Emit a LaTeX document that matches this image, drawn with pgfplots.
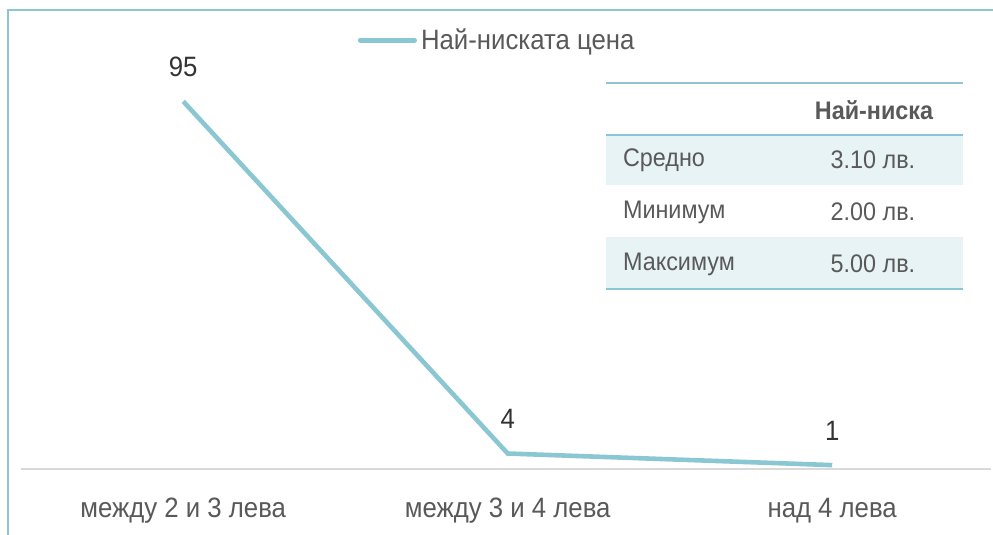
\documentclass[border=0pt]{standalone}
\usepackage{fontspec}
\setmainfont{Liberation Sans}[FakeStretch=0.92]
\usepackage{pgfplots}
\pgfplotsset{compat=1.18}
\definecolor{teal1}{HTML}{8BC7D2}
\definecolor{txt}{HTML}{595959}
\definecolor{axgray}{HTML}{D9D9D9}
\definecolor{shadecol}{HTML}{E7F3F5}
\newcommand\fs{\fontsize{14}{16}\selectfont}
\newcommand\ft{\fontsize{12.7}{14}\selectfont}
\begin{document}
\begin{tikzpicture}
\begin{scope}[x=0.5pt,y=0.5pt]
\path[use as bounding box] (0,0) rectangle (993,535);
\draw[teal1, line width=1pt] (8,0) -- (8,525) -- (993,525);
\end{scope}
\begin{axis}[at={(10.5pt,33pt)}, anchor=south west, scale only axis,
  width=485.1pt, height=193.5pt,
  xmin=-0.5, xmax=2.49, ymin=0, ymax=100,
  hide y axis, axis x line*=bottom,
  x axis line style={axgray, line width=0.8pt, -},
  xtick={0,1,2}, xticklabels={между 2 и 3 лева, между 3 и 4 лева, над 4 лева},
  major tick length=0pt,
  xticklabel style={font=\fs, text=txt, yshift=-11pt},
  clip=false,
  /pgf/number format/assume math mode=true,
  nodes near coords,
  every node near coord/.append style={font=\fs, text=black!80, anchor=south, yshift=8pt},
  legend style={at={(axis description cs:0.5,1.108)}, anchor=center, draw=none, fill=none, inner sep=0pt, font=\fs, text=txt, xshift=-4pt},
  legend image code/.code={\draw[#1, line width=2.6pt, line cap=round] (0pt,0pt) -- (27pt,0pt);},
]
\addplot[teal1, line width=2.3pt, mark=none] coordinates {(0,95) (1,4) (2,1)};
\addlegendentry{Най-ниската цена}
\end{axis}
\begin{scope}[x=0.5pt,y=0.5pt]
\fill[shadecol] (606,400) rectangle (963,350);
\fill[shadecol] (606,298) rectangle (963,246);
\draw[teal1, line width=1.1pt] (606,452) -- (963,452);
\draw[teal1, line width=1.1pt] (606,400) -- (963,400);
\draw[teal1, line width=1.1pt] (606,246) -- (963,246);
\node[font=\ft\bfseries, text=txt] at (874,425) {Най-ниска};
\node[font=\ft, text=txt, anchor=west] at (616,375) {Средно};
\node[font=\ft, text=txt, anchor=west] at (616,323) {Минимум};
\node[font=\ft, text=txt, anchor=west] at (616,271) {Максимум};
\node[font=\ft, text=txt] at (873,375) {3.10 лв.};
\node[font=\ft, text=txt] at (873,323) {2.00 лв.};
\node[font=\ft, text=txt] at (873,271) {5.00 лв.};
\end{scope}
\end{tikzpicture}
\end{document}
